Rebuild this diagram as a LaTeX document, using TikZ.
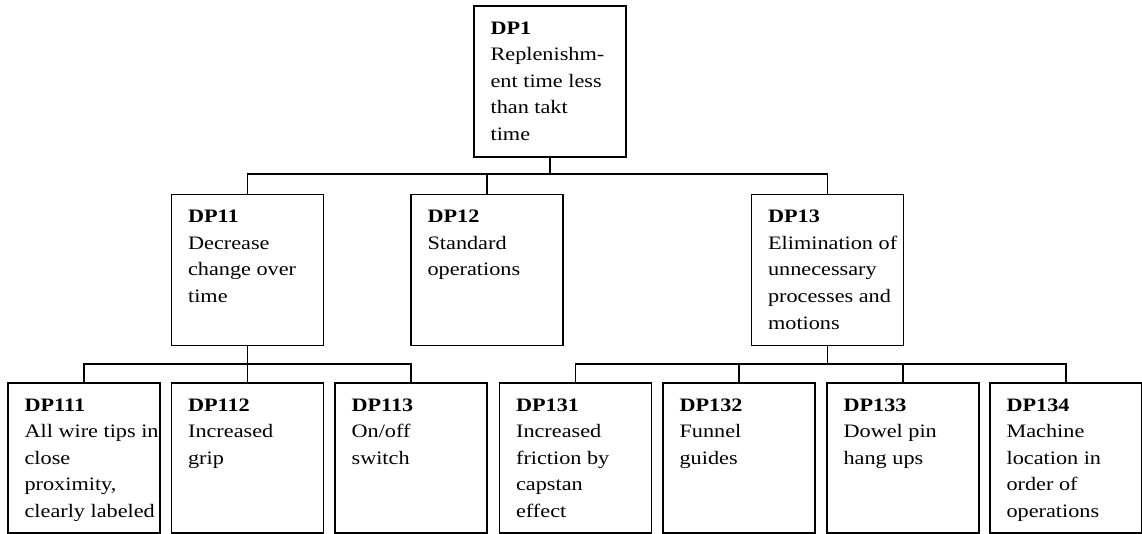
\documentclass[tikz,border=0pt]{standalone}
\usepackage{fontspec}
\setmainfont{Liberation Serif}[FakeStretch=1.17]
\begin{document}
\begin{tikzpicture}[x=1pt,y=-1pt,
  box/.style={draw,line width=1.2pt,minimum width=152pt,minimum height=151pt,inner sep=0pt},
  lowbox/.style={box,minimum height=150pt},
  txt/.style={anchor=north west,inner sep=0pt,align=left,font=\fontsize{19}{26.6}\selectfont},
  conn/.style={line width=1.2pt}]
\useasboundingbox (0,0) rectangle (1142,534);
% level 0
\node[box] (dp1) at (550,81.5) {};
% level 1
\node[box] (dp11) at (247.5,270) {};
\node[box] (dp12) at (487,270) {};
\node[box] (dp13) at (827.5,270) {};
% level 2
\node[lowbox] (dp111) at (84,458) {};
\node[lowbox] (dp112) at (247.5,458) {};
\node[lowbox] (dp113) at (411,458) {};
\node[lowbox] (dp131) at (575.5,458) {};
\node[lowbox] (dp132) at (739,458) {};
\node[lowbox] (dp133) at (903,458) {};
\node[lowbox] (dp134) at (1066,458) {};
% texts
\node[txt] (t1) at ([xshift=17pt,yshift=-16pt]dp1.north west) {\textbf{DP1}\\Replenishm-\\ent time less\\than takt\\time};
\node[txt] (t11) at ([xshift=17pt,yshift=-16pt]dp11.north west) {\textbf{DP11}\\Decrease\\change over\\time};
\node[txt] (t12) at ([xshift=17pt,yshift=-16pt]dp12.north west) {\textbf{DP12}\\Standard\\operations};
\node[txt] (t13) at ([xshift=17pt,yshift=-16pt]dp13.north west) {\textbf{DP13}\\Elimination of\\unnecessary\\processes and\\motions};
\node[txt] (t111) at ([xshift=17pt,yshift=-16pt]dp111.north west) {\textbf{DP111}\\All wire tips in\\close\\proximity,\\clearly labeled};
\node[txt] (t112) at ([xshift=17pt,yshift=-16pt]dp112.north west) {\textbf{DP112}\\Increased\\grip};
\node[txt] (t113) at ([xshift=17pt,yshift=-16pt]dp113.north west) {\textbf{DP113}\\On/off\\switch};
\node[txt] (t131) at ([xshift=17pt,yshift=-16pt]dp131.north west) {\textbf{DP131}\\Increased\\friction by\\capstan\\effect};
\node[txt] (t132) at ([xshift=17pt,yshift=-16pt]dp132.north west) {\textbf{DP132}\\Funnel\\guides};
\node[txt] (t133) at ([xshift=17pt,yshift=-16pt]dp133.north west) {\textbf{DP133}\\Dowel pin\\hang ups};
\node[txt] (t134) at ([xshift=17pt,yshift=-16pt]dp134.north west) {\textbf{DP134}\\Machine\\location in\\order of\\operations};
% junctions
\coordinate (j1) at (550,174);
\coordinate (j11) at (247.5,364);
\coordinate (j13) at (827.5,364);
% connectors
\draw[conn] (dp1.south) -- (j1);
\draw[conn] (j1) -| (dp11.north);
\draw[conn] (j1) -| (dp12.north);
\draw[conn] (j1) -| (dp13.north);
\draw[conn] (dp11.south) -- (j11);
\draw[conn] (j11) -| (dp111.north);
\draw[conn] (j11) -- (dp112.north);
\draw[conn] (j11) -| (dp113.north);
\draw[conn] (dp13.south) -- (j13);
\draw[conn] (j13) -| (dp131.north);
\draw[conn] (j13) -| (dp132.north);
\draw[conn] (j13) -| (dp133.north);
\draw[conn] (j13) -| (dp134.north);
\end{tikzpicture}
\end{document}
